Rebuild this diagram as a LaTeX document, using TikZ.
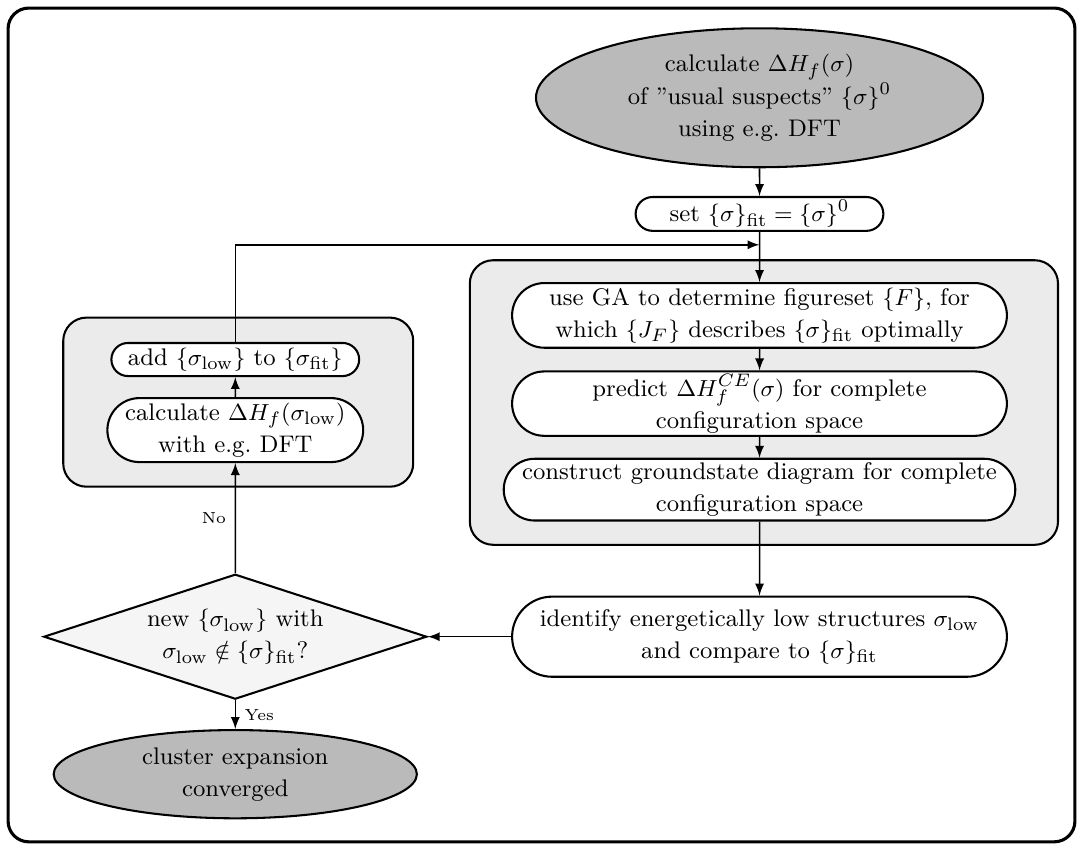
\documentclass[tikz,border=0pt]{standalone}
\usepackage{amsmath}
\usepackage{amssymb}
\usetikzlibrary{shapes.geometric,shapes.misc}
\newcommand{\boxfont}{\fontsize{9.3pt}{12.4pt}\selectfont}
\newcommand{\labelfont}{\fontsize{6.2pt}{7.5pt}\selectfont}

\begin{document}
\begin{tikzpicture}[
    >=latex,
    stepbox/.style={rounded rectangle, draw, thick, fill=white, align=center,
                    inner sep=1pt, font=\boxfont},
    groupbox/.style={fill=black!8, draw, thick, rounded corners=9pt},
    termbox/.style={ellipse, draw, thick, fill=black!27, align=center,
                    inner sep=0pt, font=\boxfont},
    testbox/.style={diamond, draw, thick, fill=black!4, align=center, aspect=3,
                    inner sep=0pt, font=\boxfont},
    flow/.style={->, semithick}
  ]

  % ══ FRAME ═════════════════════════════════════════════════════
  \useasboundingbox (0,0) rectangle (14.73,11.56);
  \draw[line width=1.2pt, rounded corners=8pt] (0.11,0.11) rectangle (14.62,11.45);

  % ══ GROUPS ════════════════════════════════════════════════════
  \draw[groupbox] (6.39,4.15) rectangle (14.39,8.02);
  \draw[groupbox] (0.86,4.94) rectangle (5.62,7.24);

  % ══ MAIN COLUMN ═══════════════════════════════════════════════
  \node[termbox, minimum width=6.08cm, minimum height=1.89cm] (calcE) at (10.33,10.23)
    {calculate $\Delta H_f(\sigma)$\\ of ''usual suspects'' $\{\sigma\}^0$\\ using e.g.\ DFT};

  \node[stepbox, minimum width=3.44cm, minimum height=0.46cm] (setfit) at (10.33,8.65)
    {set $\{\sigma\}_{\mathrm{fit}} = \{\sigma\}^0$};

  \coordinate (merge) at (10.33,8.23);

  \node[stepbox, minimum width=6.8cm, minimum height=0.88cm] (ga) at (10.33,7.27)
    {use GA to determine figureset $\{F\}$, for\\ which $\{J_F\}$ describes $\{\sigma\}_{\mathrm{fit}}$ optimally};

  \node[stepbox, minimum width=6.8cm, minimum height=0.87cm] (predict) at (10.33,6.07)
    {predict $\Delta H_f^{CE}(\sigma)$ for complete\\ configuration space};

  \node[stepbox, minimum width=6.8cm, minimum height=0.84cm] (construct) at (10.33,4.90)
    {construct groundstate diagram for complete\\ configuration space};

  \node[stepbox, minimum width=6.8cm, minimum height=1.09cm] (identify) at (10.33,2.90)
    {identify energetically low structures $\sigma_{\mathrm{low}}$\\ and compare to $\{\sigma\}_{\mathrm{fit}}$};

  % ══ LEFT COLUMN ═══════════════════════════════════════════════
  \node[stepbox, minimum width=3.44cm, minimum height=0.45cm] (addlow) at (3.20,6.67)
    {add $\{\sigma_{\mathrm{low}}\}$ to $\{\sigma_{\mathrm{fit}}\}$};

  \node[stepbox, minimum width=3.43cm, minimum height=0.87cm] (calclow) at (3.20,5.71)
    {calculate $\Delta H_f(\sigma_{\mathrm{low}})$\\ with e.g.\ DFT};

  \node[testbox, minimum width=5.21cm, minimum height=1.70cm] (newlow) at (3.20,2.90)
    {new $\{\sigma_{\mathrm{low}}\}$ with\\ $\sigma_{\mathrm{low}} \notin \{\sigma\}_{\mathrm{fit}}$?};

  \node[termbox, minimum width=4.94cm, minimum height=1.20cm] (converged) at (3.20,1.03)
    {cluster expansion\\ converged};

  % ══ ARROWS ════════════════════════════════════════════════════
  \draw[flow] (calcE) -- (setfit);
  \draw[flow] (setfit) -- (ga);
  \draw[flow] (ga) -- (predict);
  \draw[flow] (predict) -- (construct);
  \draw[flow] (construct) -- (identify);
  \draw[flow] (identify) -- (newlow);
  \draw[flow] (newlow) -- node[left, font=\labelfont] {No} (calclow);
  \draw[flow] (calclow) -- (addlow);
  \draw[flow] (addlow.north) |- (merge);
  \draw[flow] (newlow) -- node[right, font=\labelfont] {Yes} (converged);

\end{tikzpicture}
\end{document}
